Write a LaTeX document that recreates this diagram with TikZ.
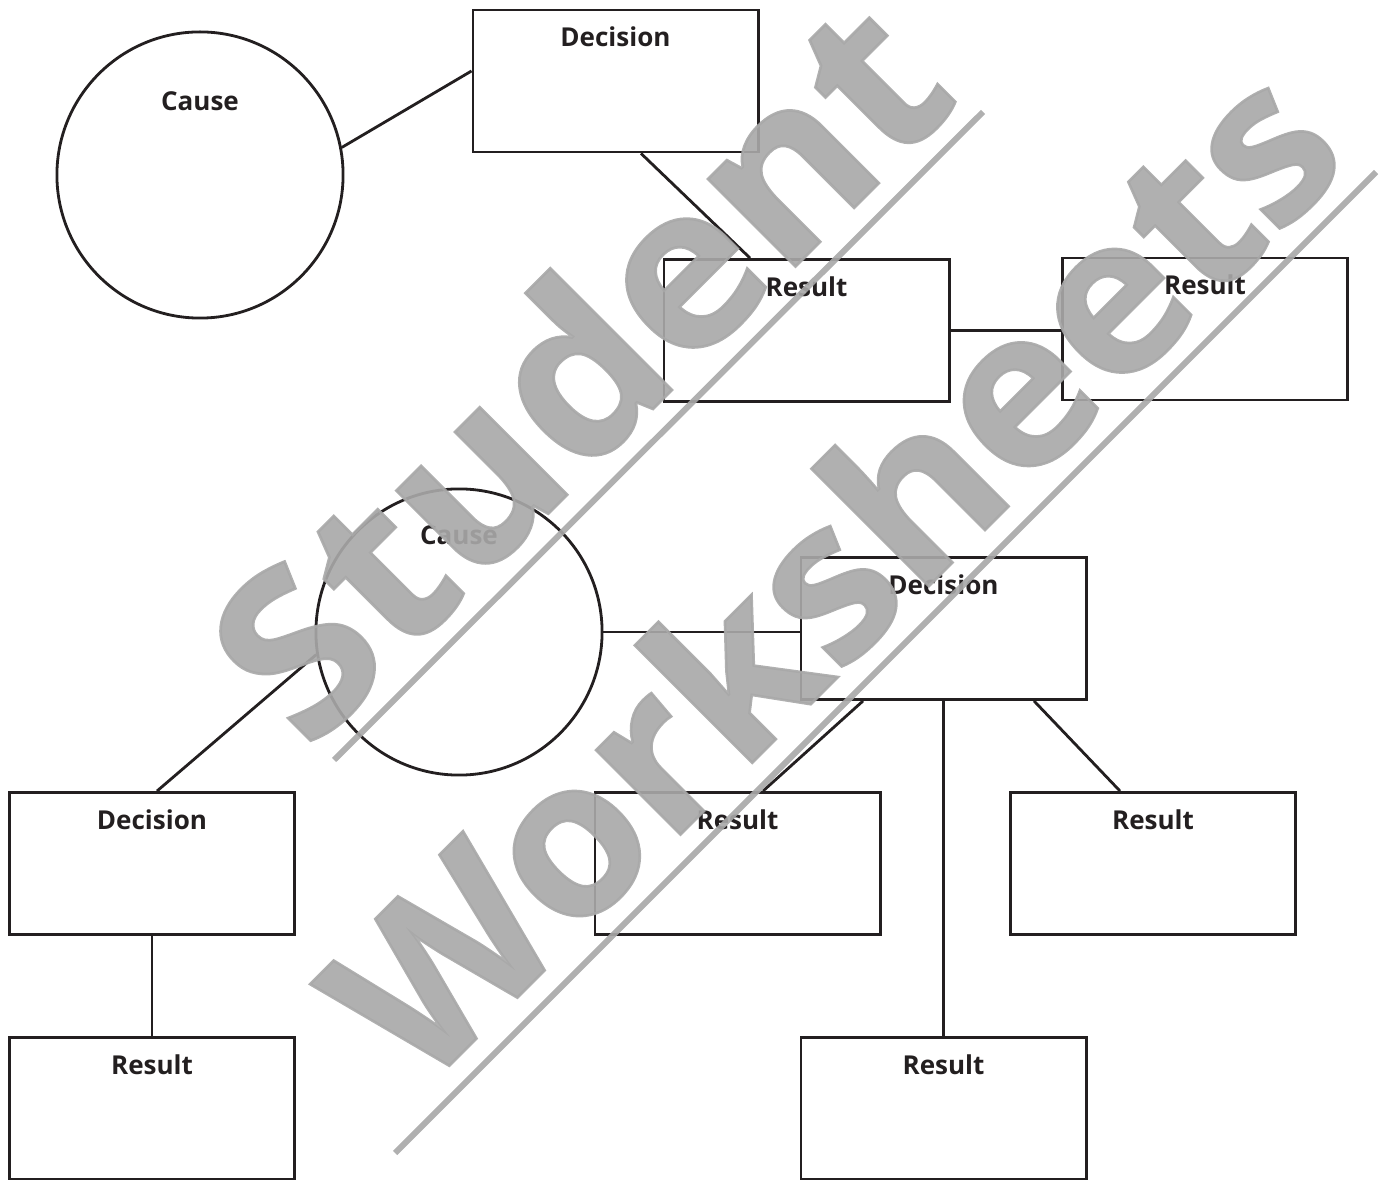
\documentclass[tikz,border=0pt]{standalone}
\usepackage{fontspec}
\setmainfont{Open Sans}
\newfontfamily\wmfont[BoldFeatures={FakeBold=1.2}]{Open Sans}
\usepackage{tikz}
\usetikzlibrary{calc}
\definecolor{ink}{HTML}{231F20}
\definecolor{wmgray}{HTML}{A8A8A8}

\begin{document}
\begin{tikzpicture}[x=0.01cm,y=-0.01cm,
  box/.style={draw=ink,line width=0.8pt,minimum width=2.85cm,minimum height=1.42cm,inner sep=0pt},
  cause node/.style={draw=ink,line width=0.8pt,circle,minimum size=2.86cm,inner sep=0pt},
  lbl/.style={text=ink,font=\fontsize{7.4}{9}\selectfont\bfseries,anchor=base,inner sep=0pt},
  link/.style={draw=ink,line width=0.8pt},
  wm text/.style={font=\wmfont\bfseries,text=wmgray,text opacity=0.91,inner sep=0pt,rotate=45,anchor=base west},
  wm line/.style={draw=wmgray,draw opacity=0.91,line width=0.06cm}]

  \useasboundingbox (0,0) rectangle (1379,1180);

  % upper chain
  \node[cause node] (cause1) at (200,175) {};
  \node[box] (dec1) at (615.5,81) {};
  \node[box] (res1) at (806.5,330.5) {};
  \node[box] (res2) at (1205,329) {};

  % lower chain
  \node[cause node] (cause2) at (459,632) {};
  \node[box] (dec2) at (943.5,628.5) {};
  \node[box] (dec3) at (152,863.5) {};
  \node[box] (res3) at (152,1108.5) {};
  \node[box] (res4) at (737.5,863.5) {};
  \node[box] (res5) at (1153,863.5) {};
  \node[box] (res6) at (943.5,1108.5) {};

  \node[lbl] (cause1 text) at ($(cause1.center)+(0,-64)$) {Cause};
  \node[lbl] (dec1 text) at ($(dec1.north)+(0,38)$) {Decision};
  \node[lbl] (res1 text) at ($(res1.north)+(0,38)$) {Result};
  \node[lbl] (res2 text) at ($(res2.north)+(0,38)$) {Result};
  \node[lbl] (cause2 text) at ($(cause2.center)+(0,-87)$) {Cause};
  \node[lbl] (dec2 text) at ($(dec2.north)+(0,38)$) {Decision};
  \node[lbl] (dec3 text) at ($(dec3.north)+(0,38)$) {Decision};
  \node[lbl] (res3 text) at ($(res3.north)+(0,38)$) {Result};
  \node[lbl] (res4 text) at ($(res4.north)+(0,38)$) {Result};
  \node[lbl] (res5 text) at ($(res5.north)+(0,38)$) {Result};
  \node[lbl] (res6 text) at ($(res6.north)+(0,38)$) {Result};

  \path[link]
    (cause1.11.6) edge ($(dec1.west)+(0,-10)$)
    ($(dec1.south)+(25.5,0)$) edge ($(res1.north)+(-56.5,0)$)
    (res1.east) edge (res1.east -| res2.west)
    (cause2.east) edge (cause2.east -| dec2.west)
    (cause2.189.3) edge ($(dec3.north)+(5,0)$)
    (dec3.south) edge (res3.north)
    ($(dec2.south)+(-80.5,0)$) edge ($(res4.north)+(25.5,0)$)
    (dec2.south) edge (res6.north)
    ($(dec2.south)+(90.5,0)$) edge ($(res5.north)+(-33,0)$);

  % watermark
  \coordinate (wm1a) at (334,760);
  \coordinate (wm1b) at (983,112);
  \coordinate (wm2a) at (395,1153);
  \coordinate (wm2b) at (1376,172);
  \path[wm line] (wm1a) -- (wm1b);
  \path[wm line] (wm2a) -- (wm2b);
  \node[wm text] (wm student) at (308,754) {\resizebox{9.25cm}{1.72cm}{Student}};
  \node[wm text] (wm sheets) at (420,1095) {\resizebox{13.2cm}{1.66cm}{Worksheets}};
\end{tikzpicture}
\end{document}
